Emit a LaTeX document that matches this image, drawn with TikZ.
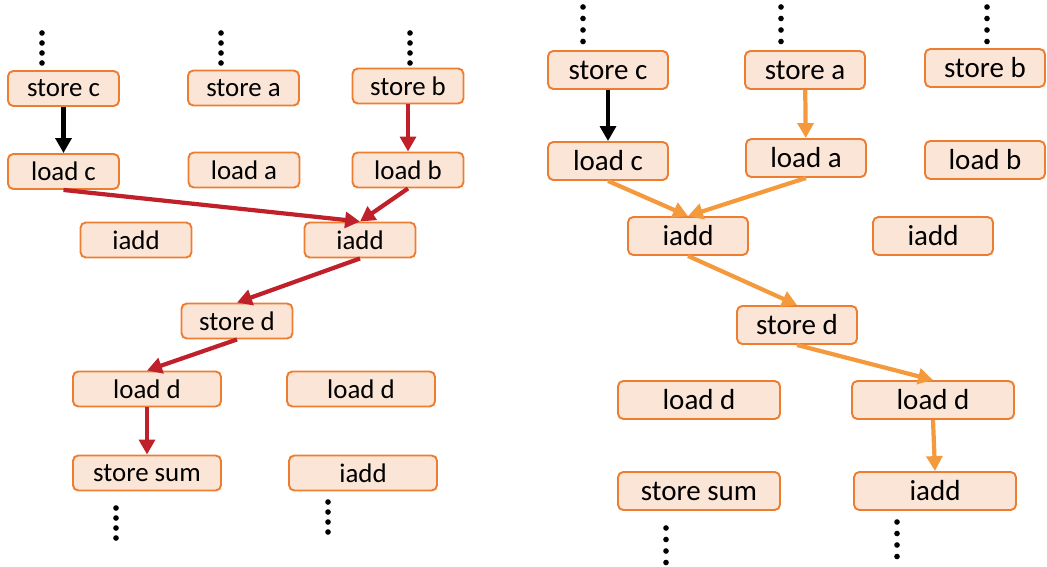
\documentclass[tikz,border=0pt]{standalone}
\usepackage{fontspec}
\setmainfont{Carlito}
\usetikzlibrary{arrows.meta}
\definecolor{boxfill}{HTML}{FBE5D6}
\definecolor{boxline}{HTML}{ED7D31}
\definecolor{deepred}{HTML}{C0202A}
\definecolor{lightorange}{HTML}{F59A3C}

\begin{document}
\begin{tikzpicture}[x=0.02cm, y=-0.02cm,
  instr/.style={draw=boxline, fill=boxfill, line width=1.1pt, rounded corners=3pt,
    minimum width=2.22cm, minimum height=0.7cm, inner sep=0pt,
    font=\fontsize{15.3}{18}\selectfont},
  wide/.style={minimum width=2.96cm},
  big/.style={minimum width=2.4cm, minimum height=0.76cm,
    font=\fontsize{16.5}{19}\selectfont},
  bigwide/.style={big, minimum width=3.24cm},
  dep/.style={line width=2.4pt, -{Triangle[length=8.5pt, width=9pt]}}]
\useasboundingbox (0,0) rectangle (1047,567);

\node[instr] (lstorec) at (63.5,88.5) {store c};
\node[instr] (lstorea) at (243.5,88) {store a};
\node[instr] (lstoreb) at (408,86) {store b};
\node[instr] (lloadc) at (63.5,171.5) {load c};
\node[instr] (lloada) at (244,170) {load a};
\node[instr] (lloadb) at (408,170) {load b};
\node[instr] (liadda) at (136,240) {iadd};
\node[instr] (liaddb) at (360,240) {iadd};
\node[instr] (lstored) at (237,321) {store d};
\node[instr, wide] (lloadd) at (147,389) {load d};
\node[instr, wide] (lloaddb) at (361,389) {load d};
\node[instr, wide] (lstoresum) at (147,473) {store sum};
\node[instr, wide] (liaddc) at (363,473) {iadd};

\draw[dep] (lstorec) -- (lloadc);
\draw[dep, deepred] (lstoreb) -- (lloadb);
\draw[dep, deepred] (lloadc.south) -- (liaddb.north);
\draw[dep, deepred] (lloadb.south) -- (liaddb.north);
\draw[dep, deepred] (liaddb.south) -- (lstored.north);
\draw[dep, deepred] (lstored.south) -- (lloadd.north);
\draw[dep, deepred] (lloadd) -- (lstoresum);

\node[instr, big] (rstorec) at (608,70) {store c};
\node[instr, big] (rstorea) at (805,70) {store a};
\node[instr, big] (rstoreb) at (985,68) {store b};
\node[instr, big] (rloadc) at (608,161) {load c};
\node[instr, big] (rloada) at (806,158) {load a};
\node[instr, big] (rloadb) at (985,160) {load b};
\node[instr, big] (riadda) at (688,236) {iadd};
\node[instr, big] (riaddb) at (933,236) {iadd};
\node[instr, big] (rstored) at (797,325) {store d};
\node[instr, bigwide] (rloadd) at (699,400) {load d};
\node[instr, bigwide] (rloaddb) at (933,400) {load d};
\node[instr, bigwide] (rstoresum) at (699,491) {store sum};
\node[instr, bigwide] (riaddc) at (935,491) {iadd};

\draw[dep] (rstorec) -- (rloadc);
\draw[dep, lightorange] (rstorea) -- (rloada);
\draw[dep, lightorange] (rloadc.south) -- (riadda.north);
\draw[dep, lightorange] (rloada.south) -- (riadda.north);
\draw[dep, lightorange] (riadda.south) -- (rstored.north);
\draw[dep, lightorange] (rstored.south) -- (rloaddb.north);
\draw[dep, lightorange] (rloaddb.south) -- (riaddc.north);

\foreach \x/\y in {42/33, 221/33, 410/33, 116/508, 328/502}
  \foreach \i in {0,...,3}
    \fill (\x,\y+\i*10) circle (1.6pt);
\foreach \x/\y in {583/7, 781/7, 987/7, 666/528, 897/522}
  \foreach \i in {0,...,3}
    \fill (\x,\y+\i*11.5) circle (1.6pt);
\end{tikzpicture}
\end{document}
